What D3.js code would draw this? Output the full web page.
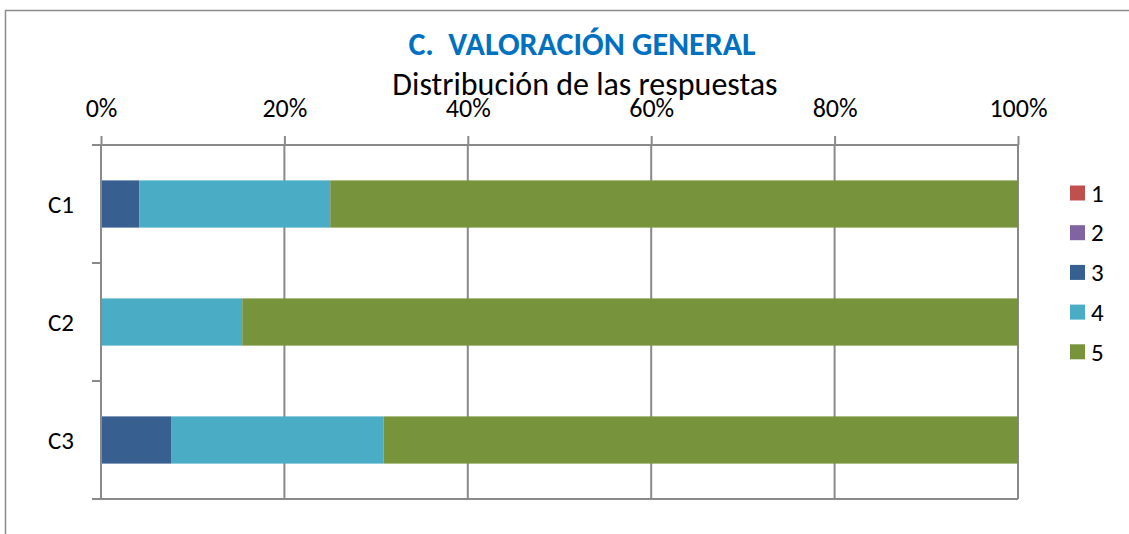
<!DOCTYPE html>
<html>
<head>
<meta charset="utf-8">
<script src="https://cdn.jsdelivr.net/npm/d3@7"></script>
<style>
  body { margin: 0; background: #fff; }
  svg { display: block; font-family: Carlito, Calibri, Lato, "Noto Sans", sans-serif; }
</style>
</head>
<body>
<svg id="chart" width="1129" height="534"></svg>
<script>
// data (percent of answers)
var categories = ["C1", "C2", "C3"];
var seriesNames = ["1", "2", "3", "4", "5"];
var seriesColors = ["#C0504D", "#8064A2", "#375F8F", "#4BACC6", "#77933C"];
var val1 = [0, 0, 0];
var val2 = [0, 0, 0];
var val3 = [4.2, 0, 7.7];
var val4 = [20.8, 15.4, 23.1];
var val5 = [75.0, 84.6, 69.2];
var xTicks = [0, 0.2, 0.4, 0.6, 0.8, 1];

var allVals = [val1, val2, val3, val4, val5];
var rows = categories.map(function(c, i) {
  var r = {cat: c};
  seriesNames.forEach(function(s, j) { r[s] = allVals[j][i] / 100; });
  return r;
});

var svg = d3.select("#chart");
var gridColor = "#8a8a8a";

// outer chart frame (cut off on right and bottom like the picture)
svg.append("path")
  .attr("d", "M5.5,540 V10.5 H1135")
  .attr("fill", "none")
  .attr("stroke", "#8c8c8c")
  .attr("stroke-width", 1.5);

var x = d3.scaleLinear().domain([0, 1]).range([101, 1018]);
var y = d3.scaleBand().domain(categories).range([145, 499])
  .paddingInner(0.6).paddingOuter(0.3);

var stack = d3.stack().keys(seriesNames);
var layers = stack(rows);

// vertical gridlines
svg.append("g").selectAll("line")
  .data(xTicks)
  .enter().append("line")
  .attr("x1", function(d) { return x(d); })
  .attr("x2", function(d) { return x(d); })
  .attr("y1", 145).attr("y2", 499)
  .attr("stroke", gridColor)
  .attr("stroke-width", 2);

// bottom line of plot
svg.append("line")
  .attr("x1", 92).attr("x2", x(1))
  .attr("y1", 499).attr("y2", 499)
  .attr("stroke", gridColor).attr("stroke-width", 2);

// bars
svg.append("g").selectAll("g")
  .data(layers)
  .enter().append("g")
  .attr("fill", function(d, i) { return seriesColors[i]; })
  .selectAll("rect")
  .data(function(d) { return d; })
  .enter().append("rect")
  .attr("x", function(d) { return x(d[0]); })
  .attr("width", function(d) { return x(d[1]) - x(d[0]); })
  .attr("y", function(d) { return y(d.data.cat); })
  .attr("height", y.bandwidth());

// top value axis
var xAxis = d3.axisTop(x)
  .tickValues(xTicks)
  .tickFormat(d3.format(".0%"))
  .tickSizeInner(9)
  .tickSizeOuter(0)
  .tickPadding(19);

var gx = svg.append("g").attr("transform", "translate(0,145)").call(xAxis);
gx.select(".domain").attr("stroke", gridColor).attr("stroke-width", 2)
  .attr("d", "M92,0H" + x(1));
gx.selectAll(".tick line").attr("stroke", gridColor).attr("stroke-width", 2);
gx.selectAll(".tick text")
  .attr("fill", "#000")
  .style("font-size", "26px")
  .style("font-family", "Carlito, Calibri, Lato, sans-serif");

// category axis: ticks on band boundaries
var bounds = categories.map(function(c, i) { return y.range()[0] + i * y.step(); });
bounds.push(y.range()[1]);
svg.append("line")
  .attr("x1", x(0)).attr("x2", x(0))
  .attr("y1", 145).attr("y2", 499)
  .attr("stroke", gridColor).attr("stroke-width", 2);
svg.append("g").selectAll("line")
  .data(bounds)
  .enter().append("line")
  .attr("x1", 92).attr("x2", x(0))
  .attr("y1", function(d) { return d; })
  .attr("y2", function(d) { return d; })
  .attr("stroke", gridColor).attr("stroke-width", 2);

svg.append("g").selectAll("text")
  .data(categories)
  .enter().append("text")
  .attr("x", 74)
  .attr("y", function(d) { return y(d) + y.bandwidth() / 2; })
  .attr("dy", "0.35em")
  .attr("text-anchor", "end")
  .style("font-size", "25px")
  .text(function(d) { return d; });

// titles
svg.append("text")
  .attr("x", 582).attr("y", 55)
  .attr("text-anchor", "middle")
  .attr("fill", "#0070C0")
  .style("font-size", "32px")
  .style("font-weight", "bold")
  .style("white-space", "pre")
  .text("C.  VALORACIÓN GENERAL");

svg.append("text")
  .attr("x", 585).attr("y", 95)
  .attr("text-anchor", "middle")
  .attr("fill", "#000")
  .style("font-size", "32px")
  .text("Distribución de las respuestas");

// legend
var legend = svg.append("g").selectAll("g")
  .data(seriesNames)
  .enter().append("g")
  .attr("transform", function(d, i) { return "translate(1070," + (193 + i * 39.7) + ")"; });
legend.append("rect")
  .attr("x", 0).attr("y", -7.5)
  .attr("width", 15).attr("height", 15)
  .attr("fill", function(d, i) { return seriesColors[i]; });
legend.append("text")
  .attr("x", 21).attr("y", 0)
  .attr("dy", "0.35em")
  .style("font-size", "25px")
  .text(function(d) { return d; });
</script>
</body>
</html>
